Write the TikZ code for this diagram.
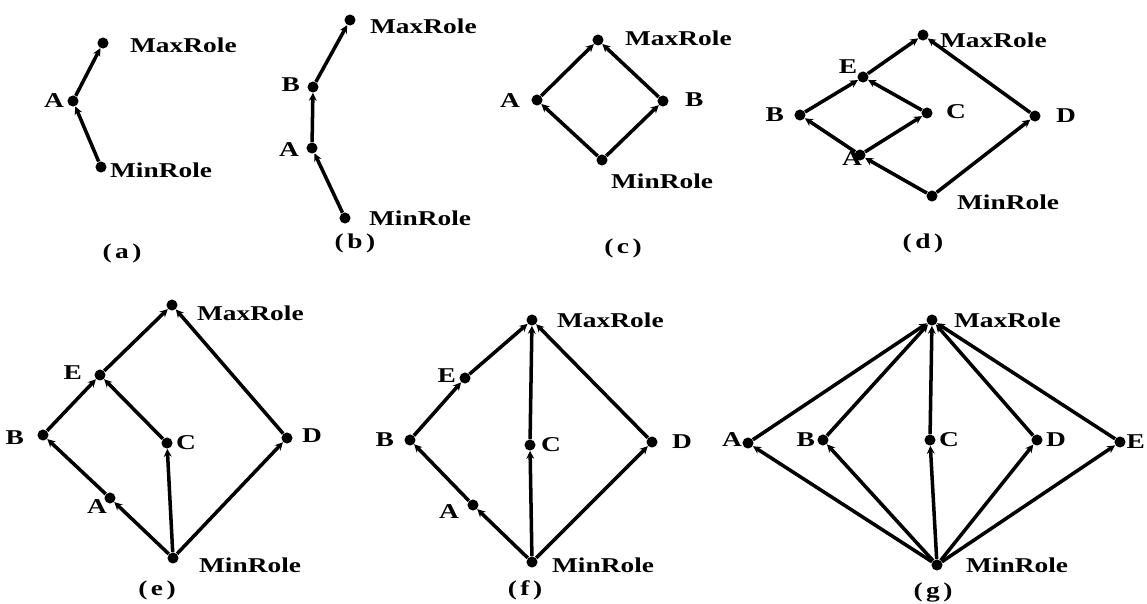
\documentclass[tikz,border=0pt]{standalone}
\usepackage{fontspec}
\newfontfamily\rolefont[FakeStretch=1.3]{Liberation Serif}
\usetikzlibrary{arrows.meta,positioning}

\begin{document}
\begin{tikzpicture}[x=0.02cm,y=-0.02cm,
    dot/.style={circle,fill=black,inner sep=0pt,minimum size=6.3pt},
    lbl/.style={inner sep=1pt,font=\rolefont\bfseries\fontsize{12}{14}\selectfont},
    subcap/.style={lbl},
    up/.style={line width=2pt,-{Stealth[length=4.5pt,width=4.5pt]}}]
  \useasboundingbox (0,0) rectangle (1147,603);

  % (a)
  \node[dot] (amax) at (103,43) {};
  \node[dot] (aA) at (73,101) {};
  \node[dot] (amin) at (101,167) {};
  \node[lbl,anchor=west] (amaxl) at (128,45) {MaxRole};
  \node[lbl,anchor=east] (aAl) at (66,101) {A};
  \node[lbl,anchor=west] (aminl) at (108,170) {MinRole};
  \node[subcap] (acap) at (122,253) {(\,a\,)};
  \draw[up] (amin) -- (aA);
  \draw[up] (aA) -- (amax);

  % (b)
  \node[dot] (bmax) at (350,20) {};
  \node[dot] (bB) at (313,87) {};
  \node[dot] (bA) at (312,148) {};
  \node[dot] (bmin) at (345,218) {};
  \node[lbl,anchor=west] (bmaxl) at (368,26) {MaxRole};
  \node[lbl,anchor=east] (bBl) at (302,85) {B};
  \node[lbl,anchor=east] (bAl) at (301,150) {A};
  \node[lbl,anchor=west] (bminl) at (367,218) {MinRole};
  \node[subcap] (bcap) at (355,243) {(\,b\,)};
  \draw[up] (bmin) -- (bA);
  \draw[up] (bA) -- (bB);
  \draw[up] (bB) -- (bmax);

  % (c)
  \node[dot] (cmax) at (598,40) {};
  \node[dot] (cA) at (537,100) {};
  \node[dot] (cB) at (663,101) {};
  \node[dot] (cmin) at (602,160) {};
  \node[lbl,anchor=west] (cmaxl) at (623,38) {MaxRole};
  \node[lbl,anchor=east] (cAl) at (522,101) {A};
  \node[lbl,anchor=west] (cBl) at (683,100) {B};
  \node[lbl,anchor=west] (cminl) at (609,181) {MinRole};
  \node[subcap] (ccap) at (623,248) {(\,c\,)};
  \draw[up] (cmin) -- (cA);
  \draw[up] (cmin) -- (cB);
  \draw[up] (cA) -- (cmax);
  \draw[up] (cB) -- (cmax);

  % (d)
  \node[dot] (dmax) at (923,35) {};
  \node[dot] (dE) at (863,77) {};
  \node[dot] (dB) at (800,115) {};
  \node[dot] (dC) at (927,113) {};
  \node[dot] (dD) at (1035,116) {};
  \node[dot] (dA) at (860,155) {};
  \node[dot] (dmin) at (932,196) {};
  \node[lbl,anchor=west] (dmaxl) at (938,40) {MaxRole};
  \node[lbl] (dEl) at (848,67) {E};
  \node[lbl,anchor=east] (dBl) at (786,115) {B};
  \node[lbl,anchor=west] (dCl) at (944,112) {C};
  \node[lbl,anchor=west] (dDl) at (1054,116) {D};
  \node[lbl] (dAl) at (852,159) {A};
  \node[lbl,anchor=west] (dminl) at (955,202) {MinRole};
  \node[subcap] (dcap) at (923,243) {(\,d\,)};
  \draw[up] (dmin) -- (dA);
  \draw[up] (dmin) -- (dD);
  \draw[up] (dA) -- (dB);
  \draw[up] (dA) -- (dC);
  \draw[up] (dB) -- (dE);
  \draw[up] (dC) -- (dE);
  \draw[up] (dE) -- (dmax);
  \draw[up] (dD) -- (dmax);

  % (e)
  \node[dot] (emax) at (172,305) {};
  \node[dot] (eE) at (100,375) {};
  \node[dot] (eB) at (43,435) {};
  \node[dot] (eC) at (167,443) {};
  \node[dot] (eD) at (287,438) {};
  \node[dot] (eA) at (110,498) {};
  \node[dot] (emin) at (173,558) {};
  \node[lbl,anchor=west] (emaxl) at (195,313) {MaxRole};
  \node[lbl,anchor=east] (eEl) at (84,373) {E};
  \node[lbl,anchor=east] (eBl) at (26,438) {B};
  \node[lbl,anchor=west] (eCl) at (174,443) {C};
  \node[lbl,anchor=west] (eDl) at (300,436) {D};
  \node[lbl] (eAl) at (97,507) {A};
  \node[lbl,anchor=west] (eminl) at (197,565) {MinRole};
  \node[subcap] (ecap) at (157,590) {(\,e\,)};
  \draw[up] (emin) -- (eA);
  \draw[up] (eA) -- (eB);
  \draw[up] (eB) -- (eE);
  \draw[up] (eE) -- (emax);
  \draw[up] (emin) -- (eC);
  \draw[up] (eC) -- (eE);
  \draw[up] (emin) -- (eD);
  \draw[up] (eD) -- (emax);

  % (f)
  \node[dot] (fmax) at (532,320) {};
  \node[dot] (fE) at (465,378) {};
  \node[dot] (fB) at (410,440) {};
  \node[dot] (fC) at (530,445) {};
  \node[dot] (fD) at (652,442) {};
  \node[dot] (fA) at (473,505) {};
  \node[dot] (fmin) at (532,562) {};
  \node[lbl,anchor=west] (fmaxl) at (555,320) {MaxRole};
  \node[lbl,anchor=east] (fEl) at (458,376) {E};
  \node[lbl,anchor=east] (fBl) at (396,440) {B};
  \node[lbl,anchor=west] (fCl) at (539,445) {C};
  \node[lbl,anchor=west] (fDl) at (670,442) {D};
  \node[lbl] (fAl) at (449,512) {A};
  \node[lbl,anchor=west] (fminl) at (550,565) {MinRole};
  \node[subcap] (fcap) at (525,590) {(\,f\,)};
  \draw[up] (fmin) -- (fA);
  \draw[up] (fA) -- (fB);
  \draw[up] (fB) -- (fE);
  \draw[up] (fE) -- (fmax);
  \draw[up] (fmin) -- (fC);
  \draw[up] (fC) -- (fmax);
  \draw[up] (fmin) -- (fD);
  \draw[up] (fD) -- (fmax);

  % (g)
  \node[dot] (gmax) at (932,320) {};
  \node[dot] (gA) at (748,443) {};
  \node[dot] (gB) at (823,440) {};
  \node[dot] (gC) at (930,440) {};
  \node[dot] (gD) at (1037,440) {};
  \node[dot] (gE) at (1120,442) {};
  \node[dot] (gmin) at (937,565) {};
  \node[lbl,anchor=west] (gmaxl) at (952,320) {MaxRole};
  \node[lbl,anchor=east] (gAl) at (744,440) {A};
  \node[lbl,anchor=east] (gBl) at (817,440) {B};
  \node[lbl,anchor=west] (gCl) at (937,440) {C};
  \node[lbl,anchor=west] (gDl) at (1044,440) {D};
  \node[lbl,anchor=east] (gEl) at (1147,442) {E};
  \node[lbl,anchor=west] (gminl) at (964,565) {MinRole};
  \node[subcap] (gcap) at (933,593) {(\,g\,)};
  \foreach \r in {A,B,C,D,E}{
    \draw[up] (gmin) -- (g\r);
    \draw[up] (g\r) -- (gmax);
  }
\end{tikzpicture}
\end{document}
